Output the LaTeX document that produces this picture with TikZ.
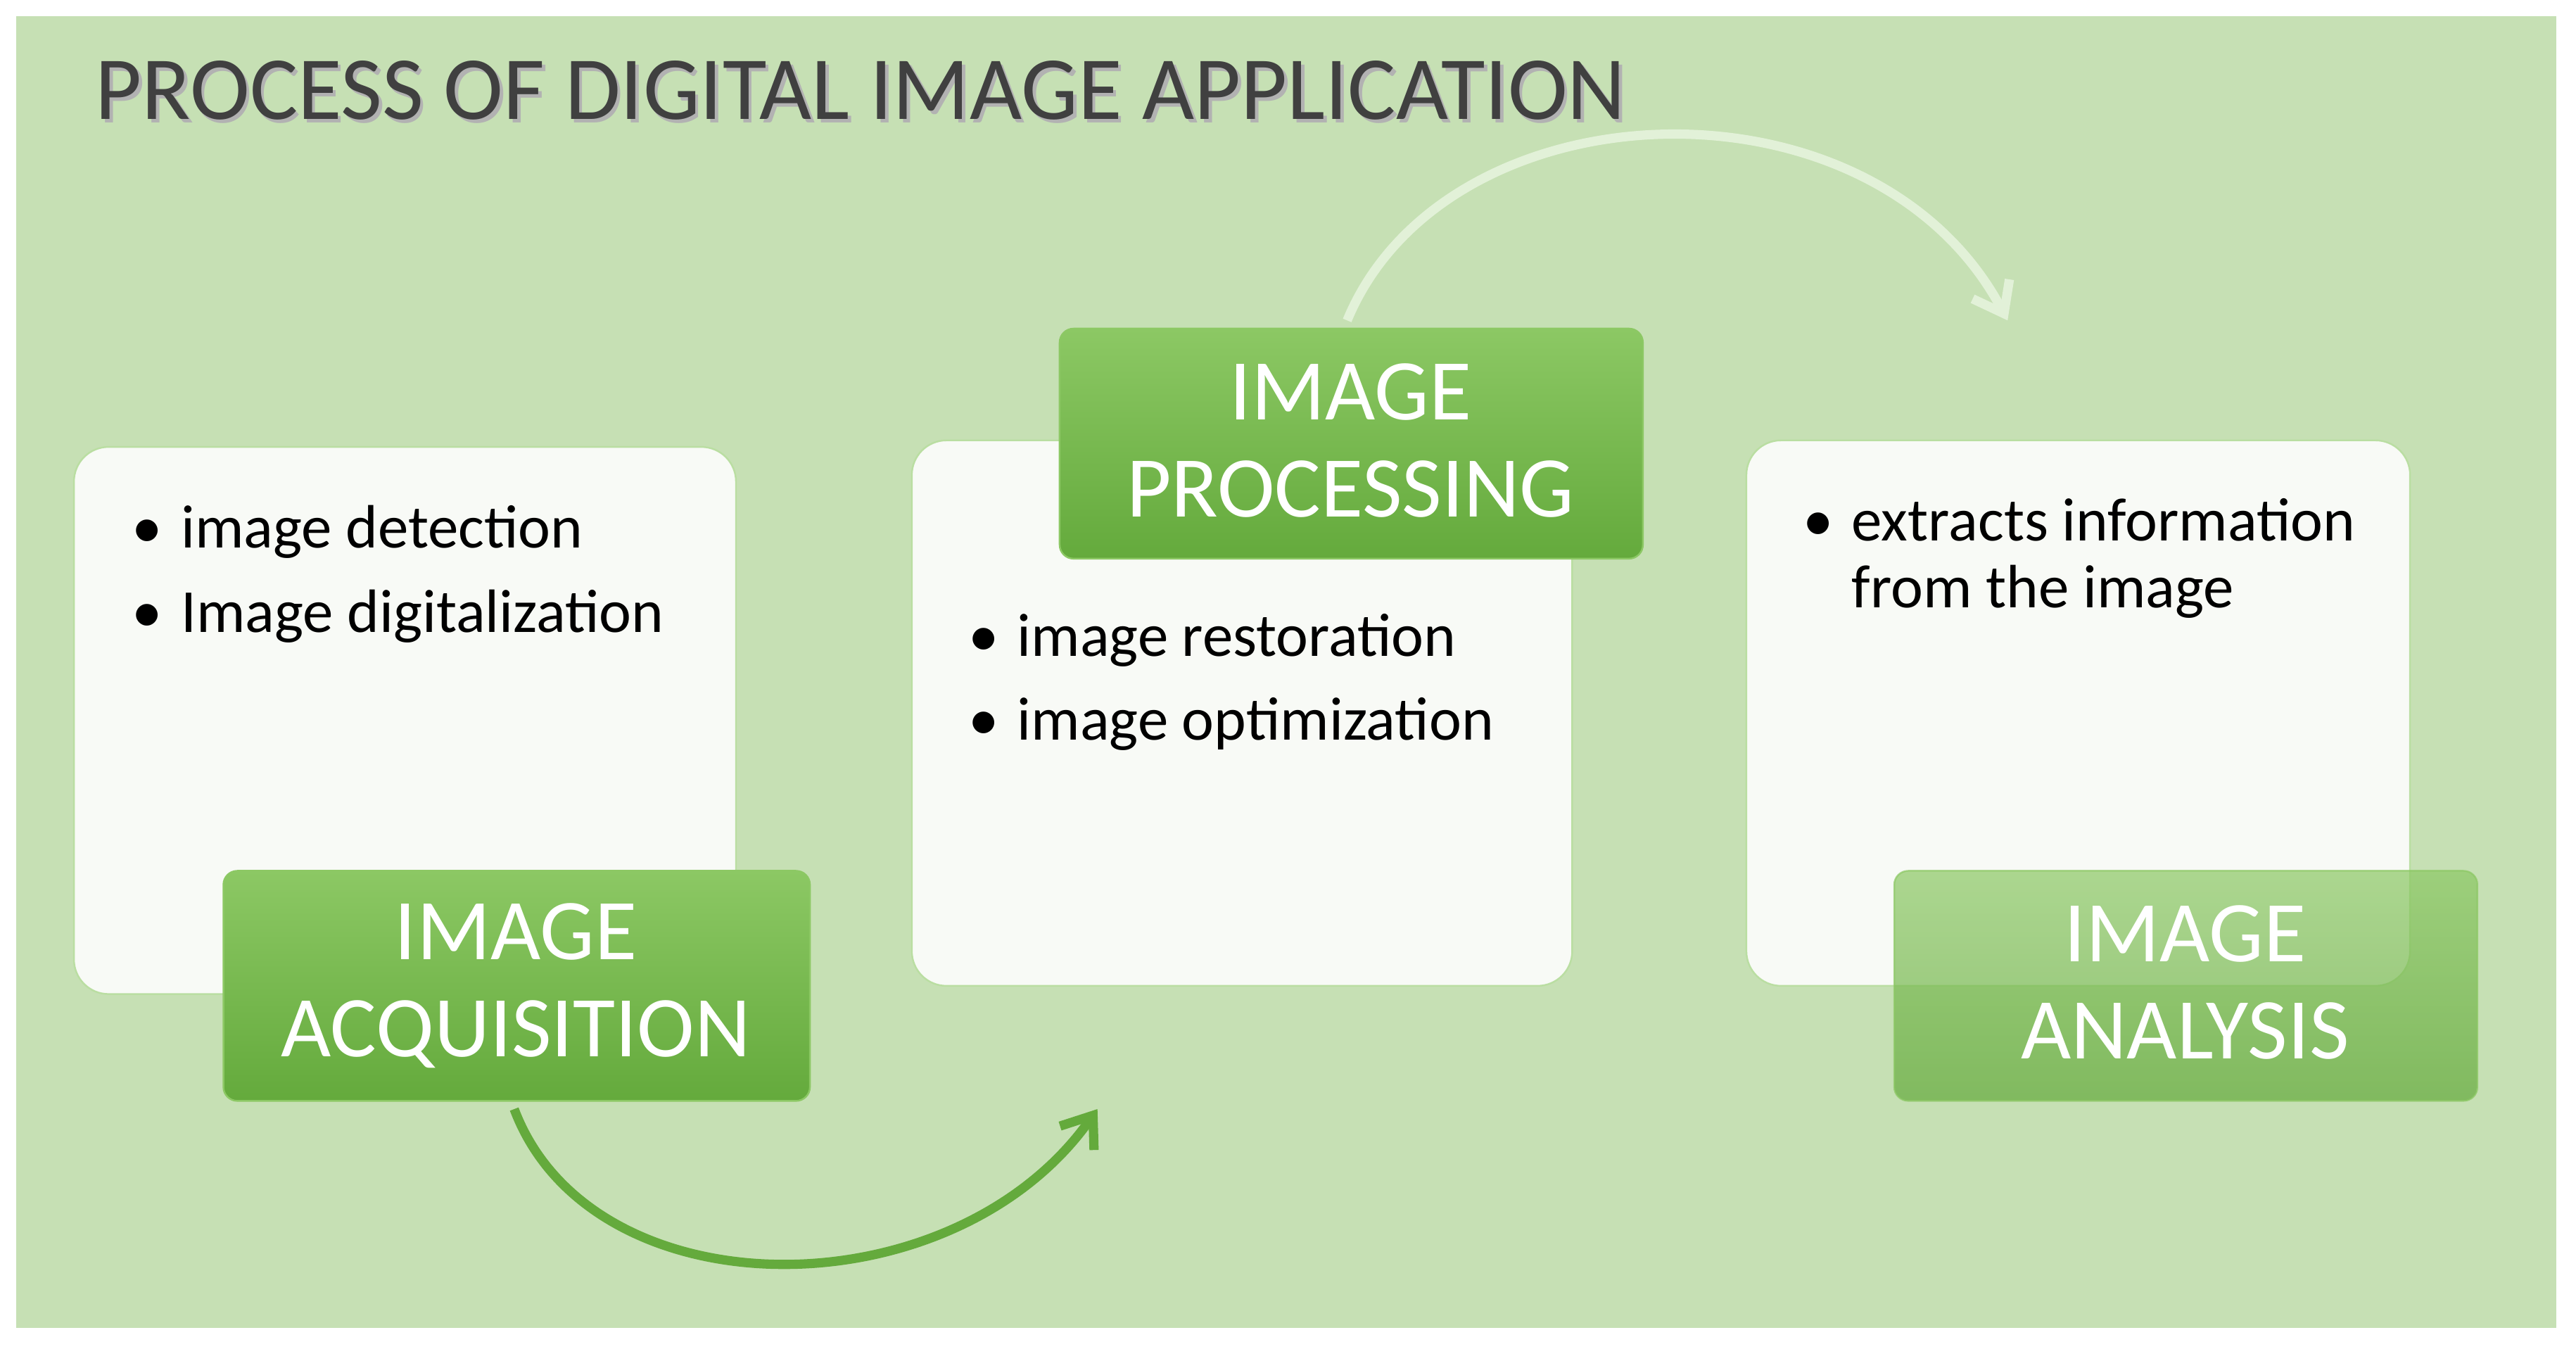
\documentclass[tikz,border=0pt]{standalone}
\usepackage{fontspec}
\setmainfont{Carlito}
\usetikzlibrary{arrows.meta}
\definecolor{bg}{RGB}{198,224,180}
\definecolor{gA}{RGB}{140,200,100}
\definecolor{gB}{RGB}{100,170,60}
\definecolor{boxw}{RGB}{248,250,246}
\begin{document}
\begin{tikzpicture}[x=0.05cm,y=-0.05cm,
  card/.style={draw=gA!60,line width=1.5pt,fill=boxw,rounded corners=30},
  lab/.style={draw=gA,line width=1.5pt,rounded corners=12,top color=gA,bottom color=gB},
  labt/.style={text=white,font=\fontsize{75}{84}\selectfont,align=center},
  bl/.style={anchor=north west,align=left,font=\fontsize{53}{68}\selectfont,text=black},
  arr/.style={line width=8pt,-{Straight Barb[length=24pt,width=36pt]}}]
\useasboundingbox (0,0) rectangle (1568,828);
\fill[white] (0,0) rectangle (1568,828);
\fill[bg] (10,10) rectangle (1556,808);
\node[anchor=west,text=black!30,font=\fontsize{78}{86}\selectfont,inner sep=0] (shadow) at (60,57) {PROCESS OF DIGITAL IMAGE APPLICATION};
\node[anchor=west,text=black!75,font=\fontsize{78}{86}\selectfont,inner sep=0] (title) at (58,55) {PROCESS OF DIGITAL IMAGE APPLICATION};
% cards
\draw[card] (45,272) rectangle (448,605);
\draw[card] (555,268) rectangle (957,600);
\draw[card] (1063,268) rectangle (1467,600);
% bullets
\node[bl] (t1) at (78,305) {\textbullet\hspace{0.3em}image detection\\[5pt]\textbullet\hspace{0.3em}Image digitalization};
\node[bl] (t2) at (587,371) {\textbullet\hspace{0.3em}image restoration\\[5pt]\textbullet\hspace{0.3em}image optimization};
\node[bl] (t3) at (1095,301) {\textbullet\hspace{0.3em}extracts information\\[-10pt]\phantom{\textbullet\hspace{0.3em}}from the image};
% labels
\draw[lab] (136,530) rectangle (493,670);
\node[labt] (l1) at (314,600) {IMAGE\\ACQUISITION};
\draw[lab] (645,200) rectangle (1000,340);
\node[labt] (l2) at (822,268) {IMAGE\\PROCESSING};
\draw[lab,opacity=0.7] (1153,530) rectangle (1508,670);
\node[labt] (l3) at (1330,598) {IMAGE\\ANALYSIS};
% arrows
\coordinate (a1) at (313,675); \coordinate (b1) at (668,675);
\draw[arr,draw=gB] (a1) .. controls (360,800) and (580,800) .. (b1);
\coordinate (a2) at (820,195); \coordinate (b2) at (1222,195);
\draw[arr,draw=white!75!gA] (a2) .. controls (880,50) and (1140,40) .. (b2);
\end{tikzpicture}
\end{document}
